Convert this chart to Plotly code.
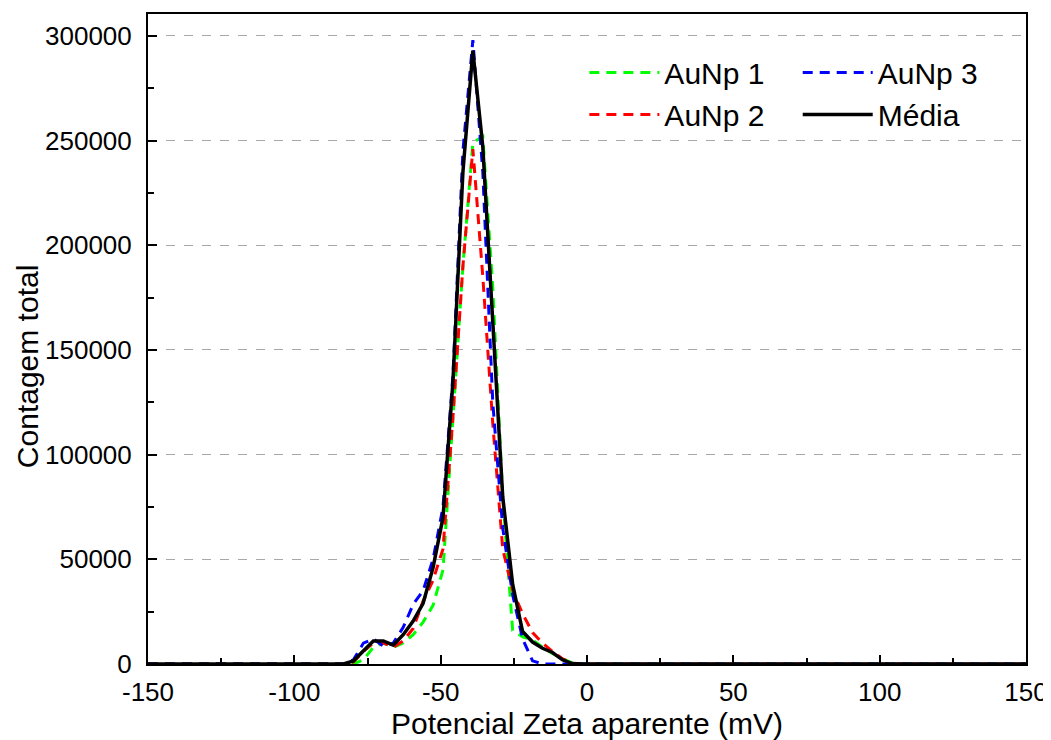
import plotly.graph_objects as go

# potencial zeta (mV) - grade comum das medidas
zeta = [-150, -83.2, -79.8, -76.4, -73.0, -69.6, -66.2, -62.8, -59.4, -56.0,
        -52.6, -49.2, -45.8, -42.4, -39.0, -35.6, -32.2, -28.8, -25.4, -22.0,
        -18.6, -15.2, -11.8, -8.4, -5.0, -1.6, 150]

aunp1 = [0, 0, 0, 2000, 8000, 10000, 8000, 10000, 14000, 20000,
         28000, 45000, 118000, 190000, 249000, 252000, 180000, 80000, 16000, 13000,
         11500, 8000, 5000, 2500, 500, 0, 0]

aunp2 = [0, 0, 1000, 6000, 10000, 10000, 8000, 11000, 17000, 30000,
         40000, 55000, 118000, 190000, 246000, 185000, 115000, 55000, 35000, 24000,
         15000, 10000, 6000, 2500, 300, 0, 0]

aunp3 = [0, 0, 2000, 10000, 12000, 8500, 10000, 17500, 28500, 35000,
         50000, 75000, 138000, 245000, 298000, 235000, 125000, 65000, 33000, 12000,
         1500, 0, 0, 0, 0, 0, 0]

media = [0, 0, 1500, 6500, 11000, 11000, 9000, 14000, 20500, 29000,
         46000, 70000, 135000, 235000, 293000, 247000, 160000, 80000, 38000, 15500,
         10500, 7500, 5500, 2000, 200, 0, 0]

x_ticks = [-150, -100, -50, 0, 50, 100, 150]
x_labels = ["-150", "-100", "-50", "0", "50", "100", "150"]

font = "Liberation Sans, Arial, sans-serif"

fig = go.Figure()
fig.add_trace(go.Scatter(x=zeta, y=aunp1, name="AuNp 1", mode="lines",
                         line=dict(color="#00ff00", width=3, dash="10px,7px"),
                         legend="legend"))
fig.add_trace(go.Scatter(x=zeta, y=aunp2, name="AuNp 2", mode="lines",
                         line=dict(color="#ff0000", width=3, dash="10px,7px"),
                         legend="legend"))
fig.add_trace(go.Scatter(x=zeta, y=aunp3, name="AuNp 3", mode="lines",
                         line=dict(color="#0000ff", width=3, dash="10px,7px"),
                         legend="legend2"))
fig.add_trace(go.Scatter(x=zeta, y=media, name="Média", mode="lines",
                         line=dict(color="black", width=3.5),
                         legend="legend2"))

legend_style = dict(font=dict(family=font, size=30, color="black"),
                    bgcolor="rgba(0,0,0,0)", itemwidth=70,
                    tracegroupgap=0, yanchor="top")

# a página tem 8px de margem no body
fig.update_layout(
    width=1043, height=732,
    margin=dict(l=140, r=25, t=6, b=76),
    paper_bgcolor="white", plot_bgcolor="white",
    font=dict(family=font, color="black"),
    legend=dict(x=0.497, y=0.95, **legend_style),
    legend2=dict(x=0.74, y=0.95, **legend_style),
    xaxis=dict(
        range=[-150, 150], tickvals=x_ticks, ticktext=x_labels,
        showline=True, linecolor="black", linewidth=2, mirror=True,
        ticks="inside", ticklen=9, tickwidth=2, tickcolor="black",
        minor=dict(dtick=25, ticks="inside", ticklen=6, tickwidth=2, tickcolor="black"),
        showgrid=False, zeroline=False, automargin=False,
        tickfont=dict(size=26, family=font),
        ticklabelstandoff=4,
        title=dict(text="Potencial Zeta aparente (mV)", font=dict(size=30, family=font), standoff=0),
    ),
    yaxis=dict(
        range=[0, 310500], dtick=50000, tick0=0,
        showline=True, linecolor="black", linewidth=2, mirror=True,
        ticks="inside", ticklen=9, tickwidth=2, tickcolor="black",
        minor=dict(dtick=25000, ticks="inside", ticklen=6, tickwidth=2, tickcolor="black"),
        showgrid=True, gridcolor="#a8a8a8", griddash="dash", gridwidth=1,
        zeroline=False, tickformat="d", automargin=False,
        tickfont=dict(size=26, family=font),
        ticklabelstandoff=9,
    ),
    annotations=[dict(text="Contagem total", textangle=-90, showarrow=False,
                      xref="paper", yref="paper", x=-0.138, y=0.458,
                      xanchor="center", yanchor="middle",
                      font=dict(size=30, family=font))],
)

fig.write_html("out.html")
